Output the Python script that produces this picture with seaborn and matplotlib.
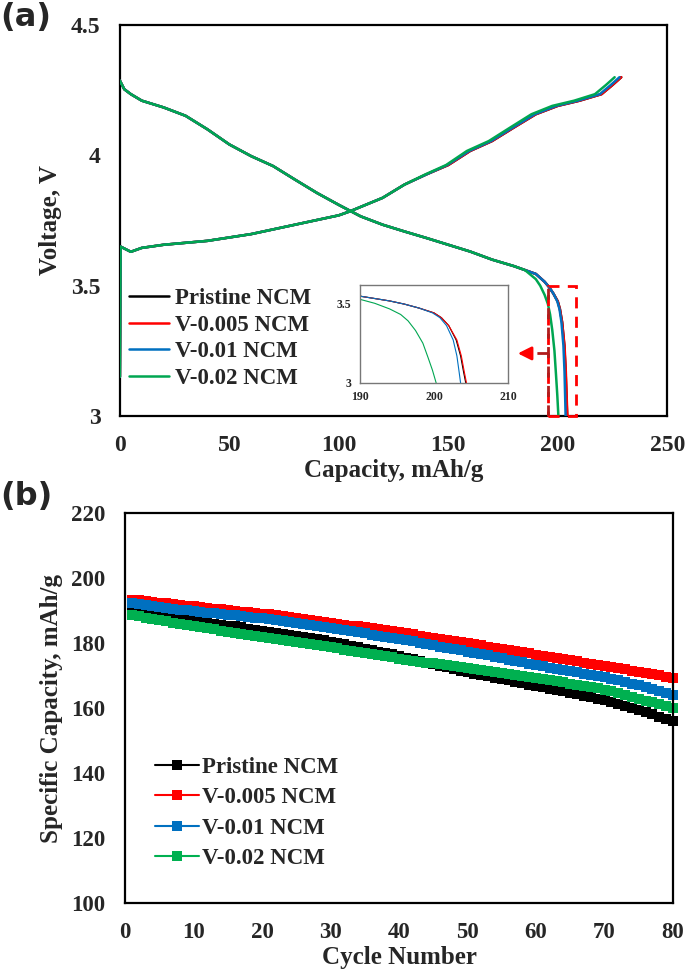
import numpy as np
import pandas as pd
import matplotlib
matplotlib.use("Agg")
import matplotlib.pyplot as plt
from matplotlib.patches import Rectangle
import seaborn as sns

sns.set_style("white")
plt.rcParams["font.family"] = ["Liberation Serif", "DejaVu Serif"]
plt.rcParams["font.weight"] = "bold"
plt.rcParams["axes.labelweight"] = "bold"

# ---------------- (a) charge / discharge curves ----------------
series = ["Pristine NCM", "V-0.005 NCM", "V-0.01 NCM", "V-0.02 NCM"]
colors_a = ["#000000", "#ff0000", "#0070c0", "#00a651"]
colors_b = ["#000000", "#ff0000", "#0070c0", "#00b050"]

# charge branch (shared voltages, capacities per sample)
charge_v = [3.15, 3.65, 3.63, 3.645, 3.657, 3.672, 3.698, 3.734, 3.77, 3.785,
            3.837, 3.888, 3.927, 3.963, 4.017, 4.055, 4.107, 4.158, 4.19,
            4.21, 4.235, 4.27, 4.30]
charge_cap = {
    "Pristine NCM": [0, 0.3, 5, 10, 20, 40, 60, 80, 100, 105, 120, 130, 140,
                     150, 160, 170, 180, 190, 200, 210, 220, 225, 229],
    "V-0.005 NCM": [0, 0.3, 5, 10, 20, 40, 60, 80, 100, 105, 120, 130, 140,
                    150, 160, 170, 180, 190, 200, 210, 220, 225, 229],
    "V-0.01 NCM": [0, 0.3, 5, 10, 20, 40, 60, 80, 100, 105, 120, 130, 140,
                   149.5, 159.5, 169.5, 179.5, 189.5, 199.3, 209.2, 219.2, 224.2, 228.2],
    "V-0.02 NCM": [0, 0.3, 5, 10, 20, 40, 60, 80, 100, 105, 120, 130, 139.5,
                   149, 158.5, 168.5, 178.3, 188, 197.5, 207.5, 217, 222, 226],
}

# discharge branch: common body + sample specific tail (190 mAh/g onwards)
dis_body_cap = [0, 2, 5, 10, 20, 30, 40, 50, 60, 70, 80, 90, 100, 110, 120,
                130, 140, 150, 160, 170, 180, 185]
dis_body_v = [4.287, 4.254, 4.235, 4.21, 4.184, 4.152, 4.10, 4.042, 3.997,
              3.959, 3.907, 3.856, 3.81, 3.766, 3.734, 3.708, 3.683, 3.657,
              3.631, 3.60, 3.575, 3.56]
dis_tail_cap = {
    "Pristine NCM": [190, 192, 194, 196, 198, 200, 201, 202, 203, 203.6, 204, 204.3],
    "V-0.005 NCM": [190, 192, 194, 196, 198, 200, 201, 202, 203.1, 203.7, 204.1, 204.4],
    "V-0.01 NCM": [190, 192, 194, 196, 198, 199.8, 200.8, 201.7, 202.6, 203.1, 203.4, 203.6],
    "V-0.02 NCM": [190, 192, 194, 195.5, 196.5, 197.5, 198.5, 199.2, 199.8, 200.3],
}
dis_tail_v = {
    "Pristine NCM": [3.545, 3.53, 3.515, 3.495, 3.47, 3.44, 3.41, 3.36, 3.27, 3.17, 3.07, 3.0],
    "V-0.005 NCM": [3.545, 3.53, 3.515, 3.495, 3.47, 3.44, 3.41, 3.36, 3.27, 3.17, 3.07, 3.0],
    "V-0.01 NCM": [3.545, 3.53, 3.515, 3.495, 3.47, 3.44, 3.41, 3.36, 3.27, 3.17, 3.07, 3.0],
    "V-0.02 NCM": [3.525, 3.50, 3.465, 3.43, 3.39, 3.33, 3.25, 3.16, 3.08, 3.0],
}

# ---------------- (b) cycling ----------------
cycles = list(range(1, 81))
cap_pristine = [
    190.8, 190.3, 189.9, 189.5, 189.0, 188.6, 188.2, 187.8, 187.4, 187.0,
    186.7, 186.4, 186.0, 185.7, 185.4, 185.1, 184.8, 184.4, 184.1, 183.8,
    183.5, 183.2, 182.8, 182.5, 182.2, 181.8, 181.5, 181.1, 180.8, 180.4,
    180.0, 179.6, 179.1, 178.7, 178.3, 177.8, 177.4, 176.9, 176.5, 176.0,
    175.5, 175.0, 174.5, 174.0, 173.5, 173.0, 172.5, 172.0, 171.5, 171.0,
    170.6, 170.2, 169.8, 169.4, 169.0, 168.5, 168.1, 167.7, 167.2, 166.8,
    166.4, 165.9, 165.5, 165.1, 164.7, 164.2, 163.8, 163.4, 162.9, 162.5,
    161.9, 161.3, 160.7, 160.0, 159.4, 158.7, 158.1, 157.4, 156.7, 156.0]
cap_v0005 = [
    193.3, 193.1, 192.9, 192.6, 192.4, 192.2, 192.0, 191.7, 191.5, 191.3,
    191.1, 190.9, 190.6, 190.4, 190.2, 190.0, 189.7, 189.5, 189.3, 189.0,
    188.8, 188.5, 188.3, 188.0, 187.7, 187.5, 187.2, 186.9, 186.6, 186.3,
    186.0, 185.7, 185.4, 185.1, 184.8, 184.5, 184.2, 183.9, 183.6, 183.3,
    183.0, 182.7, 182.3, 182.0, 181.7, 181.3, 181.0, 180.7, 180.3, 180.0,
    179.6, 179.3, 178.9, 178.6, 178.2, 177.9, 177.5, 177.1, 176.8, 176.4,
    176.1, 175.7, 175.4, 175.0, 174.7, 174.4, 174.0, 173.7, 173.3, 173.0,
    172.6, 172.3, 171.9, 171.5, 171.2, 170.8, 170.4, 170.1, 169.7, 169.3]
cap_v001 = [
    192.2, 191.9, 191.6, 191.4, 191.1, 190.8, 190.6, 190.3, 190.1, 189.8,
    189.6, 189.4, 189.2, 188.9, 188.7, 188.5, 188.3, 188.0, 187.8, 187.6,
    187.3, 187.0, 186.7, 186.4, 186.1, 185.8, 185.5, 185.2, 184.9, 184.6,
    184.3, 184.0, 183.6, 183.3, 183.0, 182.6, 182.3, 182.0, 181.6, 181.3,
    180.9, 180.5, 180.1, 179.7, 179.3, 178.9, 178.6, 178.2, 177.8, 177.4,
    177.0, 176.6, 176.2, 175.7, 175.3, 174.9, 174.5, 174.1, 173.6, 173.2,
    172.8, 172.4, 172.1, 171.7, 171.3, 171.0, 170.6, 170.2, 169.9, 169.5,
    169.0, 168.5, 168.0, 167.5, 167.0, 166.4, 165.9, 165.3, 164.7, 164.0]
cap_v002 = [
    188.6, 188.2, 187.8, 187.4, 187.0, 186.7, 186.3, 185.9, 185.6, 185.2,
    184.9, 184.5, 184.2, 183.8, 183.5, 183.2, 182.8, 182.5, 182.1, 181.8,
    181.5, 181.2, 180.9, 180.6, 180.2, 179.9, 179.6, 179.3, 179.0, 178.7,
    178.4, 178.0, 177.7, 177.3, 177.0, 176.6, 176.3, 175.9, 175.6, 175.2,
    174.9, 174.6, 174.3, 174.0, 173.8, 173.5, 173.2, 172.9, 172.7, 172.4,
    172.1, 171.8, 171.5, 171.2, 170.9, 170.6, 170.3, 170.0, 169.7, 169.4,
    169.0, 168.6, 168.3, 167.9, 167.5, 167.2, 166.8, 166.4, 166.1, 165.7,
    165.2, 164.6, 164.0, 163.5, 162.9, 162.3, 161.8, 161.2, 160.6, 160.0]
cycle_caps = [cap_pristine, cap_v0005, cap_v001, cap_v002]

# ---------------------------------------------------------
fig = plt.figure(figsize=(6.85, 9.73), dpi=100)
ax1 = fig.add_axes([0.175, 0.5725, 0.799, 0.4017])
ax2 = fig.add_axes([0.1825, 0.0719, 0.800, 0.4008])
axin = fig.add_axes([0.5255, 0.6064, 0.216, 0.1007])

# --- panel (a)
for name, col in zip(series, colors_a):
    dcap = dis_body_cap + dis_tail_cap[name]
    dv = dis_body_v + dis_tail_v[name]
    sns.lineplot(x=charge_cap[name], y=charge_v, ax=ax1, color=col, lw=1.8,
                 sort=False, estimator=None, label=name, zorder=3)
    sns.lineplot(x=dcap, y=dv, ax=ax1, color=col, lw=1.8, sort=False,
                 estimator=None, zorder=3)
    sns.lineplot(x=dcap, y=dv, ax=axin, color=col, lw=0.8, sort=False,
                 estimator=None)

ax1.set_xlim(0, 250)
ax1.set_ylim(3, 4.5)
ax1.set_xticks([0, 50, 100, 150, 200, 250])
ax1.set_yticks([3, 3.5, 4, 4.5])
ax1.set_yticklabels(["3", "3.5", "4", "4.5"])
ax1.set_xlabel("Capacity, mAh/g", fontsize=18, fontweight="bold", labelpad=2)
ax1.set_ylabel("Voltage, V", fontsize=18, fontweight="bold", labelpad=6)

# zoom box + arrow
ax1.add_patch(Rectangle((195.5, 3.0), 13, 0.5, fill=False, edgecolor="red",
                        lw=2, ls=(0, (4, 3)), clip_on=False, zorder=5))
ax1.plot([195.5, 195.5], [3.0, 3.5], color="#b01c1c", lw=2, ls=(0, (4, 3)), zorder=6)
ax1.plot([195.5, 186], [3.24, 3.24], color="#b01c1c", lw=2, ls=(0, (4, 3)), zorder=6)
ax1.annotate("", xy=(180.5, 3.24), xytext=(186.5, 3.24),
             arrowprops=dict(arrowstyle="-|>,head_length=0.8,head_width=0.4",
                             color="red", lw=2), zorder=6)

ax1.legend(loc="lower left", bbox_to_anchor=(0.0, 0.045), frameon=False,
           handlelength=1.75, handletextpad=0.25, labelspacing=0.25,
           borderaxespad=0, prop=dict(weight="bold", size=16.5))

# inset
axin.set_xlim(190, 210)
axin.set_ylim(3, 3.615)
axin.set_xticks([190, 200, 210])
axin.set_yticks([3, 3.5])
axin.set_yticklabels(["3", "3.5"])
axin.tick_params(labelsize=8.5, length=0, pad=6)
for lab in axin.get_xticklabels() + axin.get_yticklabels():
    lab.set_fontweight("bold")
for sp in axin.spines.values():
    sp.set_color("#777777")
    sp.set_linewidth(1)
axin.set_xlabel("")
axin.set_ylabel("")

# --- panel (b)
for name, col, caps in zip(series, colors_b, cycle_caps):
    sns.lineplot(x=cycles, y=caps, ax=ax2, color=col, lw=1.5, marker="s",
                 markersize=7.5, markeredgewidth=0, label=name, clip_on=False,
                 estimator=None)

ax2.set_xlim(0, 80)
ax2.set_ylim(100, 220)
ax2.set_xticks(range(0, 81, 10))
ax2.set_yticks(range(100, 221, 20))
ax2.set_xlabel("Cycle Number", fontsize=18, fontweight="bold", labelpad=2)
ax2.set_ylabel("Specific Capacity, mAh/g", fontsize=18, fontweight="bold", labelpad=6)
ax2.legend(loc="lower left", bbox_to_anchor=(0.038, 0.064), frameon=False,
           handlelength=1.9, handletextpad=0.15, labelspacing=0.4,
           borderaxespad=0, prop=dict(weight="bold", size=16.5))

for ax in (ax1, ax2):
    ax.tick_params(direction="in", length=5, width=1.2, labelsize=17, pad=14,
                   top=False, right=False)
    for lab in ax.get_xticklabels() + ax.get_yticklabels():
        lab.set_fontweight("bold")
    for sp in ax.spines.values():
        sp.set_color("black")
        sp.set_linewidth(1.6)
ax2.tick_params(labelsize=16.5)

fig.text(0.0, 0.998, "(a)", fontsize=23, fontweight="bold",
         family=["DejaVu Sans"], va="top", ha="left")
fig.text(0.0, 0.506, "(b)", fontsize=23, fontweight="bold",
         family=["DejaVu Sans"], va="top", ha="left")

fig.savefig("out.png", dpi=100)
